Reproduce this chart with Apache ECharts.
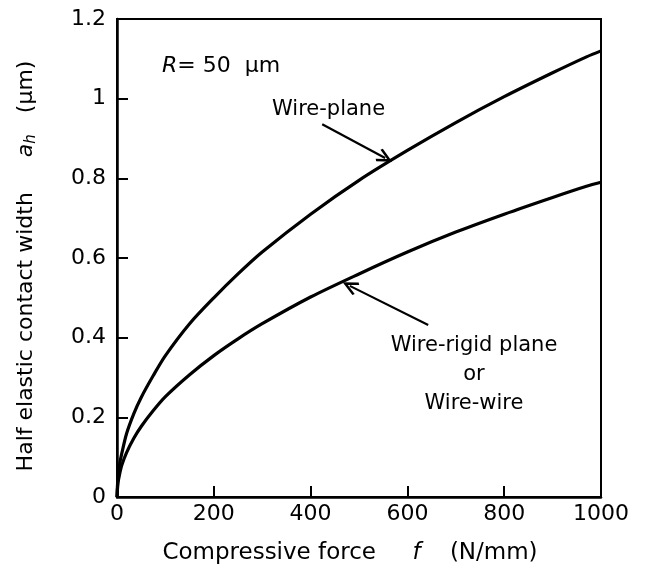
<!DOCTYPE html>
<html lang="en">

<head>
  <meta charset="UTF-8">
  <title>Half elastic contact width</title>
  <script src="https://cdn.jsdelivr.net/npm/echarts@6/dist/echarts.min.js"></script>
  <style>
    html,
    body {
      margin: 0;
      padding: 0;
      background-color: #fff;
    }

    #chart {
      width: 648px;
      height: 570px;
    }
  </style>
</head>

<body>
  <div id="chart"></div>
  <script>
    // compressive force f (N/mm)
    const force = [0, 2, 5, 10, 20, 35, 50, 75, 100, 150, 200, 250, 300, 400, 500, 600, 700, 800, 900, 970, 1000];
    // half contact width (um)
    const wirePlane = [0, 0.05, 0.08, 0.11, 0.16, 0.21, 0.25, 0.305, 0.355, 0.435, 0.50, 0.56, 0.615, 0.71, 0.795, 0.87, 0.94, 1.005, 1.065, 1.105, 1.12];
    const wireWire = [0, 0.035, 0.055, 0.08, 0.112, 0.148, 0.177, 0.217, 0.252, 0.307, 0.355, 0.397, 0.435, 0.502, 0.56, 0.615, 0.665, 0.71, 0.752, 0.78, 0.79];
    // annotation arrows [tail, tip] in data units
    const arrowUpper = [[424, 0.936], [554, 0.851]];
    const arrowLower = [[643, 0.432], [481, 0.530]];

    const font = 'DejaVu Sans';
    const openArrow = 'path://M5,0 L10,9 L8.6,10 L5,3.6 L1.4,10 L0,9 Z';

    function arrowLine(pts) {
      return {
        silent: true,
        symbol: ['none', openArrow],
        symbolSize: [14, 16],
        label: { show: false },
        lineStyle: { color: '#000', width: 2.2, type: 'solid' },
        data: [[{ coord: pts[0] }, { coord: pts[1] }]]
      };
    }

    const chart = echarts.init(document.getElementById('chart'));
    chart.setOption({
      animation: false,
      grid: {
        left: 117, right: 47, top: 19, bottom: 73,
        show: true, borderColor: '#000', borderWidth: 2
      },
      xAxis: {
        type: 'value', min: 0, max: 1000, interval: 200,
        name: '{n|Compressive force}     {i|f}    {n|(N/mm)}',
        nameLocation: 'middle', nameGap: 45,
        nameTextStyle: {
          padding: [0, 18, 0, 0],
          rich: {
            n: { fontFamily: font, fontSize: 23, color: '#000' },
            i: { fontFamily: font, fontSize: 23, fontStyle: 'italic', color: '#000' }
          },
          fontFamily: font, fontSize: 23
        },
        splitLine: { show: false },
        axisLine: { lineStyle: { color: '#000', width: 2.5 } },
        axisTick: { inside: true, length: 11, lineStyle: { color: '#000', width: 2 } },
        axisLabel: { margin: 6, fontFamily: font, fontSize: 22, color: '#000', formatter: v => String(v) }
      },
      yAxis: {
        type: 'value', min: 0, max: 1.2, interval: 0.2,
        name: '{n|Half elastic contact width}     {i|a}{s|h}   {n|(μm)}',
        nameLocation: 'middle', nameGap: 78,
        nameTextStyle: {
          padding: [0, 16, 0, 0],
          rich: {
            n: { fontFamily: font, fontSize: 22, color: '#000' },
            i: { fontFamily: font, fontSize: 22, fontStyle: 'italic', color: '#000' },
            s: { fontFamily: font, fontSize: 15, fontStyle: 'italic', color: '#000', padding: [10, 0, 0, 0] }
          },
          fontFamily: font, fontSize: 22
        },
        splitLine: { show: false },
        axisLine: { lineStyle: { color: '#000', width: 2.5 } },
        axisTick: { inside: true, length: 11, lineStyle: { color: '#000', width: 2 } },
        axisLabel: { margin: 11, fontFamily: font, fontSize: 22, color: '#000', formatter: v => String(v) }
      },
      series: [
        {
          name: 'Wire-plane',
          type: 'line',
          data: force.map((f, i) => [f, wirePlane[i]]),
          smooth: 0.3,
          showSymbol: false,
          lineStyle: { color: '#000', width: 3.2 },
          markLine: arrowLine(arrowUpper)
        },
        {
          name: 'Wire-rigid plane or Wire-wire',
          type: 'line',
          data: force.map((f, i) => [f, wireWire[i]]),
          smooth: 0.3,
          showSymbol: false,
          lineStyle: { color: '#000', width: 3.2 },
          markLine: arrowLine(arrowLower)
        }
      ],
      graphic: [
        {
          type: 'text', x: 162, y: 66,
          style: {
            text: '{i|R}= 50  μm',
            verticalAlign: 'middle',
            font: '22px "DejaVu Sans"', fill: '#000',
            rich: { i: { fontFamily: font, fontSize: 22, fontStyle: 'italic', fill: '#000' } }
          }
        },
        {
          type: 'text', x: 272, y: 110,
          style: { text: 'Wire-plane', verticalAlign: 'middle', font: '21px "DejaVu Sans"', fill: '#000' }
        },
        {
          type: 'text', x: 474, y: 375,
          style: {
            text: 'Wire-rigid plane\nor\nWire-wire',
            align: 'center', verticalAlign: 'middle', lineHeight: 29,
            font: '21px "DejaVu Sans"', fill: '#000'
          }
        }
      ]
    });
  </script>
</body>

</html>
